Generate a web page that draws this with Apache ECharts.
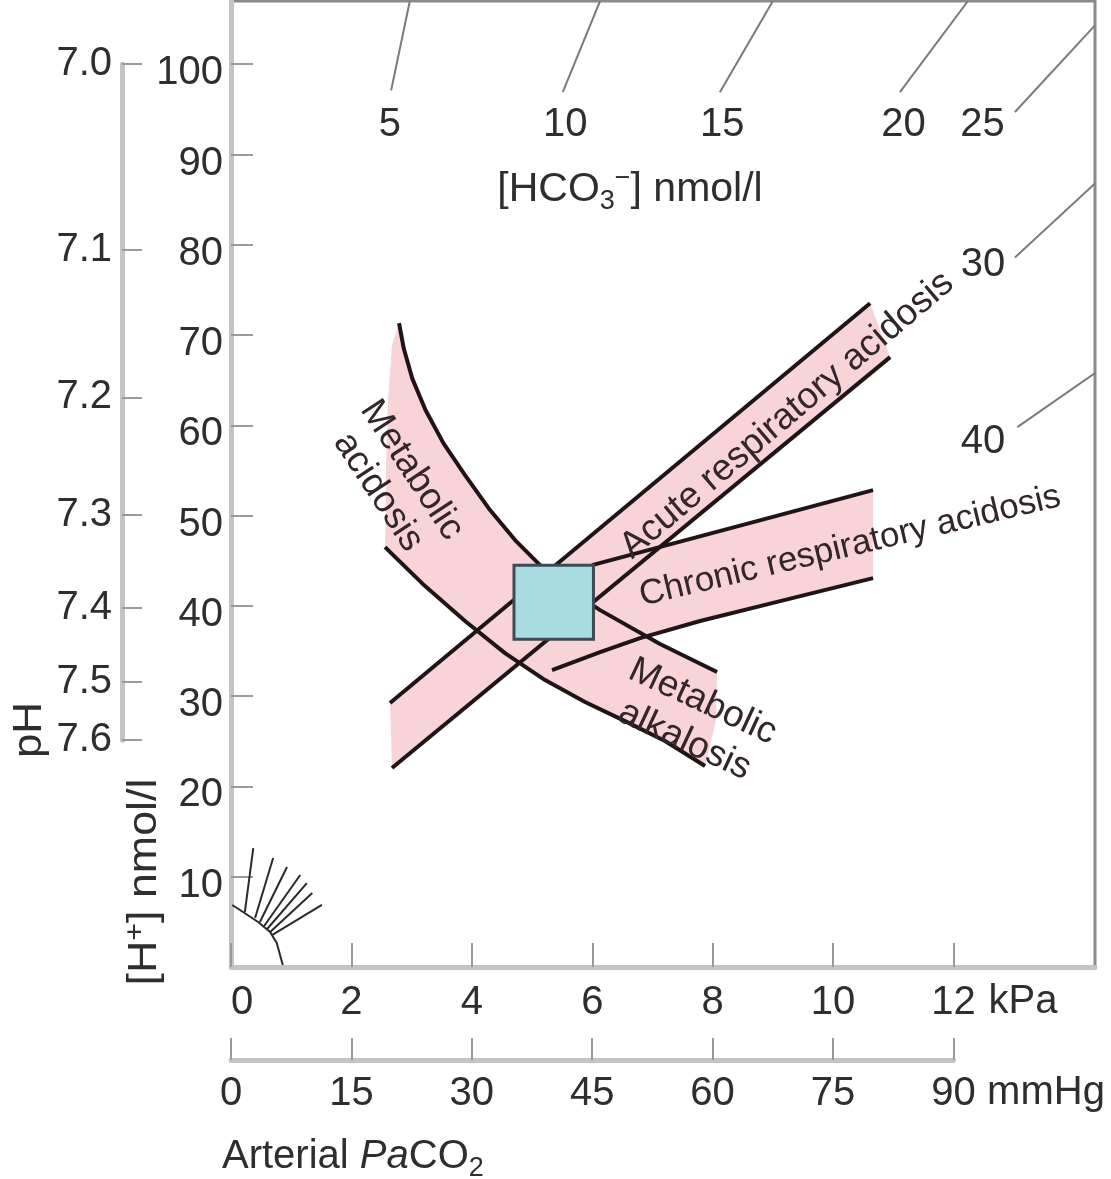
<!DOCTYPE html>
<html><head><meta charset="utf-8">
<script src="https://cdn.jsdelivr.net/npm/echarts@6/dist/echarts.min.js"></script>
<style>html,body{margin:0;padding:0;background:#fff}#c{width:1111px;height:1179px}</style>
</head><body><div id="c"></div>
<script>
// ---------- data (kPa, nmol/l) ----------
const kpaTicks = [0, 2, 4, 6, 8, 10, 12];
const mmhgTicks = [0, 15, 30, 45, 60, 75, 90];
const hTicks = [10, 20, 30, 40, 50, 60, 70, 80, 90, 100];
const pHLabels = ['7.0', '7.1', '7.2', '7.3', '7.4', '7.5', '7.6'];
const pHPos = pHLabels.map(s => Math.pow(10, 9 - parseFloat(s))); // [H+] for each pH

const hco3Labels = ['5', '10', '15', '20', '25', '30', '40'];
const hco3LabelAt = [[2.64, 93.3], [5.55, 93.3], [8.16, 93.3], [11.17, 93.3], [12.48, 93.3], [12.49, 77.8], [12.49, 58.2]];
const hco3Lines = [
  [[2.97, 107], [2.66, 97.1]],
  [[6.13, 107], [5.51, 96.9]],
  [[9.00, 107], [8.12, 96.9]],
  [[12.24, 107], [11.11, 96.9]],
  [[14.35, 104.3], [13.02, 94.7]],
  [[14.35, 86.8], [13.02, 78.6]],
  [[14.35, 65.8], [13.06, 59.8]]
];

const metUpper = [[2.791, 71.32], [2.870, 68.50], [3.010, 65.20], [3.230, 61.70], [3.530, 58.00], [3.887, 54.49],
  [4.302, 50.61], [4.718, 47.29], [5.133, 44.52], [5.631, 41.75], [6.130, 39.53], [7.126, 35.77], [8.073, 32.67]];
const metLower = [[2.558, 46.51], [3.223, 42.19], [3.887, 38.32], [4.551, 34.77], [5.216, 31.78], [5.880, 29.35],
  [6.545, 27.24], [7.209, 25.03], [7.874, 22.26]];
const metLeftEdge = [[2.674, 68.88], [2.608, 62.79], [2.575, 55.04]];
const metRightEdge = [[8.056, 27.35]];
const acuteUpper = [[2.641, 29.24], [10.615, 73.53]];
const acuteLower = [[2.674, 22.04], [10.947, 67.55]];
const chronicUpper = [[5.997, 44.52], [10.664, 52.82]];
const chronicLower = [[5.332, 32.89], [6.130, 34.88], [6.794, 36.43], [7.791, 38.32], [9.120, 40.53], [10.664, 43.08]];
const normalBox = [[4.70, 36.3], [6.02, 44.5]];

const fanArc = [[0.02, 6.87], [0.20, 6.09], [0.45, 4.98], [0.65, 3.88], [0.76, 2.66], [0.86, 0.22]];
const fanRays = [
  [[0.23, 6.09], [0.37, 13.18]],
  [[0.40, 5.43], [0.70, 12.07]],
  [[0.48, 4.98], [0.93, 11.07]],
  [[0.55, 4.54], [1.15, 10.19]],
  [[0.60, 4.21], [1.26, 9.30]],
  [[0.65, 3.88], [1.35, 8.19]],
  [[0.68, 3.54], [1.51, 6.87]]
];

const bandTexts = ['Metabolic\nacidosis', 'Acute respiratory acidosis', 'Chronic respiratory acidosis', 'Metabolic\nalkalosis'];

// ---------- layout / style ----------
const labelLayout = [
  { at: [2.724, 53.82], angle: -56.7, lh: 40, fs: 37 },
  { at: [9.236, 61.13], angle: 40.2, lh: 40, fs: 37 },
  { at: [10.282, 46.60], angle: 13.4, lh: 40, fs: 35 },
  { at: [7.683, 27.24], angle: -25.0, lh: 43, fs: 37 }
];
const FONT = "'Liberation Sans', Arial, Helvetica, sans-serif";
const TXT = '#2e2e2e';
const PINK = '#f8d3d8';
const EDGE = '#1f1517';
const AXIS = '#c4c4c4';
const TICK = '#9a9a9a';
const FS = 40;

const bandFills = [
  metUpper.concat(metRightEdge, metLower.slice().reverse(), metLeftEdge.slice().reverse()),
  [acuteUpper[0], acuteUpper[1], acuteLower[1], acuteLower[0]],
  chronicUpper.concat(chronicLower.slice().reverse())
];
const edgeLines = [metUpper, metLower, acuteUpper, acuteLower, chronicUpper, chronicLower];

function polyRender(list, style) {
  return function (params, api) {
    return {
      type: 'polyline',
      shape: { points: list[params.dataIndex].map(p => api.coord(p)) },
      style: Object.assign({ fill: null, lineJoin: 'round', lineCap: 'butt' }, style)
    };
  };
}
const idx = arr => arr.map((_, i) => [i, 1]);

const chart = echarts.init(document.getElementById('c'), null, { renderer: 'canvas' });
const labelStyle = { fontSize: FS, fontFamily: FONT, color: TXT };

chart.setOption({
  animation: false,
  backgroundColor: '#fff',
  textStyle: { fontFamily: FONT },
  grid: [
    { left: 231, right: 16, top: 1, bottom: 212, show: true, borderColor: '#8a8a8a', borderWidth: 3, backgroundColor: 'transparent' },
    { left: 122, width: 1, top: 64.2, height: 676 },
    { left: 231, width: 722.4, top: 1059, height: 1 }
  ],
  xAxis: [
    {
      gridIndex: 0, type: 'value', min: 0, max: 14.35, position: 'bottom',
      axisLine: { show: true, lineStyle: { color: AXIS, width: 5 } },
      axisTick: { show: true, inside: true, length: 24, customValues: kpaTicks, lineStyle: { color: TICK, width: 2 } },
      axisLabel: Object.assign({ customValues: kpaTicks, margin: 16, alignMinLabel: 'left' }, labelStyle),
      splitLine: { show: false }
    },
    { gridIndex: 1, type: 'value', min: 0, max: 1, show: false },
    {
      gridIndex: 2, type: 'value', min: 0, max: 90, position: 'bottom',
      axisLine: { show: true, lineStyle: { color: AXIS, width: 5 } },
      axisTick: { show: true, inside: true, length: 22, customValues: mmhgTicks, lineStyle: { color: TICK, width: 2 } },
      axisLabel: Object.assign({ customValues: mmhgTicks, margin: 14 }, labelStyle),
      splitLine: { show: false }
    }
  ],
  yAxis: [
    {
      gridIndex: 0, type: 'value', min: 0, max: 107, position: 'left',
      axisLine: { show: true, lineStyle: { color: AXIS, width: 5 } },
      axisTick: { show: true, inside: true, length: 22, customValues: hTicks, lineStyle: { color: TICK, width: 2 } },
      axisLabel: Object.assign({ customValues: hTicks, margin: 8, verticalAlign: 'top', lineHeight: 18 }, labelStyle),
      splitLine: { show: false }
    },
    {
      gridIndex: 1, type: 'value', min: pHPos[pHPos.length - 1], max: pHPos[0], position: 'left',
      axisLine: { show: true, lineStyle: { color: AXIS, width: 5 } },
      axisTick: { show: true, inside: true, length: 20, customValues: pHPos, lineStyle: { color: TICK, width: 2 } },
      axisLabel: Object.assign({
        customValues: pHPos, margin: 10,
        formatter: v => { const i = pHPos.findIndex(h => Math.abs(h - v) < 1e-6); return i >= 0 ? pHLabels[i] : ''; }
      }, labelStyle),
      splitLine: { show: false }
    },
    { gridIndex: 2, type: 'value', show: false }
  ],
  series: [
    {
      type: 'custom', name: 'bands', xAxisIndex: 0, yAxisIndex: 0, z: 1, silent: true, clip: false,
      data: idx(bandFills),
      renderItem: (params, api) => ({
        type: 'polygon',
        shape: { points: bandFills[params.dataIndex].map(p => api.coord(p)) },
        style: { fill: PINK }
      })
    },
    {
      type: 'custom', name: 'hco3 isopleths', xAxisIndex: 0, yAxisIndex: 0, z: 2, silent: true, clip: true,
      data: idx(hco3Lines),
      renderItem: polyRender(hco3Lines, { stroke: '#7a7a7a', lineWidth: 2 })
    },
    {
      type: 'custom', name: 'fan', xAxisIndex: 0, yAxisIndex: 0, z: 2, silent: true, clip: false,
      data: idx([fanArc].concat(fanRays)),
      renderItem: polyRender([fanArc].concat(fanRays), { stroke: '#2a2a2a', lineWidth: 2 })
    },
    {
      type: 'custom', name: 'band edges', xAxisIndex: 0, yAxisIndex: 0, z: 3, silent: true, clip: false,
      data: idx(edgeLines),
      renderItem: polyRender(edgeLines, { stroke: EDGE, lineWidth: 4 })
    },
    {
      type: 'custom', name: 'normal', xAxisIndex: 0, yAxisIndex: 0, z: 4, silent: true, clip: false,
      data: [[0, 1]],
      renderItem: (params, api) => {
        const a = api.coord([normalBox[0][0], normalBox[1][1]]);
        const b = api.coord([normalBox[1][0], normalBox[0][1]]);
        return {
          type: 'rect',
          shape: { x: a[0], y: a[1], width: b[0] - a[0], height: b[1] - a[1] },
          style: { fill: '#a7dce1', stroke: '#3d4c52', lineWidth: 3 }
        };
      }
    },
    {
      type: 'custom', name: 'hco3 labels', xAxisIndex: 0, yAxisIndex: 0, z: 5, silent: true, clip: false,
      data: idx(hco3Labels),
      renderItem: (params, api) => {
        const p = api.coord(hco3LabelAt[params.dataIndex]);
        return {
          type: 'text', x: p[0], y: p[1],
          style: { text: hco3Labels[params.dataIndex], fontSize: FS, fontFamily: FONT, fill: TXT, align: 'center', verticalAlign: 'middle' }
        };
      }
    },
    {
      type: 'custom', name: 'band labels', xAxisIndex: 0, yAxisIndex: 0, z: 5, silent: true, clip: false,
      data: idx(bandTexts),
      renderItem: (params, api) => {
        const L = labelLayout[params.dataIndex];
        const p = api.coord(L.at);
        return {
          type: 'text', x: p[0], y: p[1], rotation: L.angle * Math.PI / 180,
          style: { text: bandTexts[params.dataIndex], fontSize: L.fs, lineHeight: L.lh, fontFamily: FONT, fill: '#33262a', align: 'center', verticalAlign: 'middle' }
        };
      }
    }
  ],
  graphic: [
    {
      type: 'text', x: 630, y: 190, z: 10,
      style: {
        text: '{a|[HCO}{sub|3}{sup|−}{a|] nmol/l}', align: 'center', verticalAlign: 'middle', fill: TXT,
        rich: {
          a: { fontSize: 41, fontFamily: FONT, fill: TXT, lineHeight: 50 },
          sub: { fontSize: 27, fontFamily: FONT, fill: TXT, verticalAlign: 'bottom', lineHeight: 27 },
          sup: { fontSize: 27, fontFamily: FONT, fill: TXT, verticalAlign: 'top', lineHeight: 27 }
        }
      }
    },
    {
      type: 'text', x: 30, y: 730, rotation: Math.PI / 2, scaleX: 1.1, z: 10,
      style: { text: 'pH', fontSize: FS, fontFamily: FONT, fill: TXT, align: 'center', verticalAlign: 'middle' }
    },
    {
      type: 'text', x: 145, y: 882, rotation: Math.PI / 2, scaleX: 1.12, z: 10,
      style: {
        text: '{a|[H}{sup|+}{a|] nmol/l}', align: 'center', verticalAlign: 'middle', fill: TXT,
        rich: {
          a: { fontSize: FS, fontFamily: FONT, fill: TXT, lineHeight: 46 },
          sup: { fontSize: 27, fontFamily: FONT, fill: TXT, verticalAlign: 'top', lineHeight: 27 }
        }
      }
    },
    {
      type: 'text', x: 222, y: 1157, z: 10,
      style: {
        text: '{a|Arterial }{i|Pa}{a|CO}{sub|2}', align: 'left', verticalAlign: 'middle', fill: TXT,
        rich: {
          a: { fontSize: FS, fontFamily: FONT, fill: TXT, lineHeight: 50 },
          i: { fontSize: FS, fontFamily: FONT, fontStyle: 'italic', fill: TXT, lineHeight: 50 },
          sub: { fontSize: 27, fontFamily: FONT, fill: TXT, verticalAlign: 'bottom', lineHeight: 27 }
        }
      }
    },
    {
      type: 'text', x: 1023, y: 1002, z: 10,
      style: { text: 'kPa', fontSize: FS, fontFamily: FONT, fill: TXT, align: 'center', verticalAlign: 'middle' }
    },
    {
      type: 'text', x: 1046, y: 1093, z: 10,
      style: { text: 'mmHg', fontSize: FS, fontFamily: FONT, fill: TXT, align: 'center', verticalAlign: 'middle' }
    }
  ]
});
</script></body></html>
